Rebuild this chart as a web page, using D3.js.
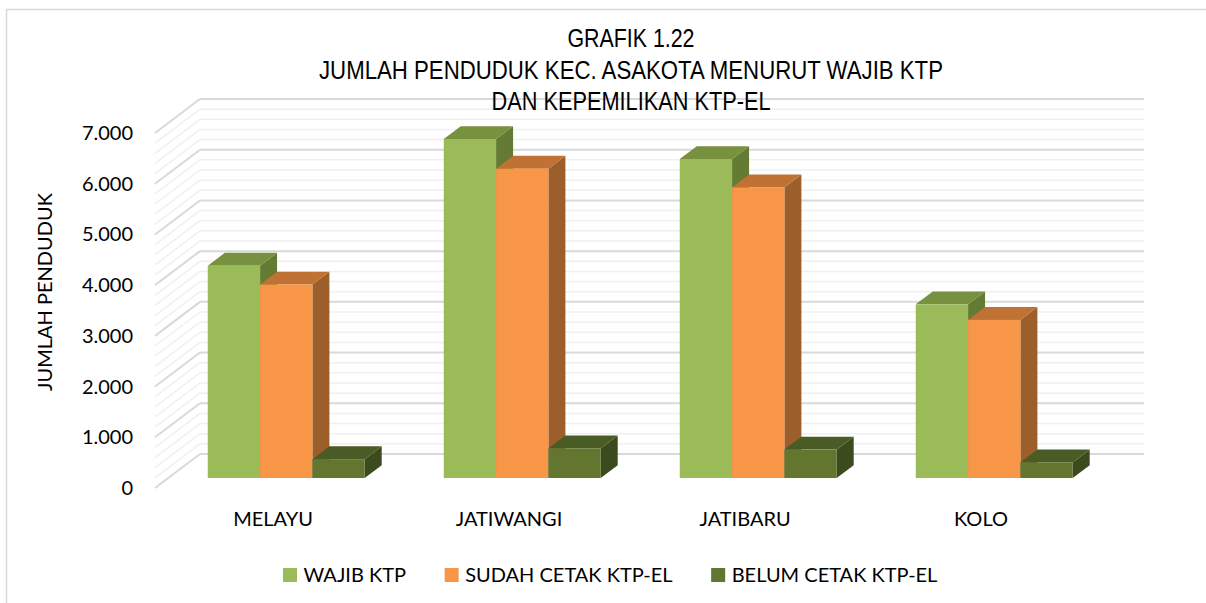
<!DOCTYPE html>
<html>
<head>
<meta charset="utf-8">
<script src="https://cdn.jsdelivr.net/npm/d3@7"></script>
<style>
  html, body { margin: 0; padding: 0; background: #fff; }
  svg { display: block; }
</style>
</head>
<body>
<svg id="chart" width="1206" height="603"></svg>
<script>
// ---- data ----
const categories = ["MELAYU", "JATIWANGI", "JATIBARU", "KOLO"];
const seriesNames = ["WAJIB KTP", "SUDAH CETAK KTP-EL", "BELUM CETAK KTP-EL"];
const wajibKTP = [4186, 6685, 6290, 3425];
const sudahCetak = [3815, 6099, 5730, 3118];
const belumCetak = [371, 586, 560, 307];
const yTickValues = [0, 1000, 2000, 3000, 4000, 5000, 6000, 7000];
const yTickLabels = ["0", "1.000", "2.000", "3.000", "4.000", "5.000", "6.000", "7.000"];
const titleLines = ["GRAFIK 1.22", "JUMLAH PENDUDUK KEC. ASAKOTA MENURUT WAJIB KTP", "DAN KEPEMILIKAN KTP-EL"];
const yAxisTitle = "JUMLAH PENDUDUK";

// ---- styles ----
const colors = [
  { front: "#9BBB59", top: "#77913E", side: "#647B33" },
  { front: "#F79646", top: "#BF7233", side: "#9C5E2B" },
  { front: "#62762F", top: "#4A5C25", side: "#3C4B1D" }
];
const seriesValues = [wajibKTP, sudahCetak, belumCetak];

const svg = d3.select("#chart");
const W = 1206, H = 603;

// chart border
svg.append("rect").attr("x", 6.5).attr("y", 9.5).attr("width", 1260).attr("height", 700)
  .attr("fill", "#fff").attr("stroke", "#d9d9d9").attr("stroke-width", 1.5);

// ---- 3D oblique geometry ----
const frontLeft = 155, frontRight = 1099;
const depthDX = 45, depthDY = -34;       // full depth of the plot box
const barT0 = 0.294, barT1 = 0.672;      // bar depth span (fraction)
const y = d3.scaleLinear().domain([0, 7000]).range([488, 133]); // front plane
const x0 = d3.scaleBand().domain(categories).range([frontLeft, frontRight]).paddingInner(0).paddingOuter(0);
const groupW = x0.bandwidth() * 0.665;
const x1 = d3.scaleBand().domain(seriesNames).range([0, groupW]).padding(0);

// ---- gridlines (back wall + side wall) ----
const grid = svg.append("g");
const minorVals = d3.range(0, 7001, 200);
minorVals.forEach(v => {
  const major = v % 1000 === 0;
  const yf = y(v), yb = y(v) + depthDY;
  const col = major ? "#d9d9d9" : "#f0f0f0";
  const sw = major ? 2 : 1.5;
  // side wall slanted line
  grid.append("line").attr("x1", frontLeft).attr("y1", yf).attr("x2", frontLeft + depthDX).attr("y2", yb)
    .attr("stroke", col).attr("stroke-width", sw);
  // back wall line
  grid.append("line").attr("x1", frontLeft + depthDX).attr("y1", yb).attr("x2", frontRight + depthDX).attr("y2", yb)
    .attr("stroke", col).attr("stroke-width", sw);
});

// ---- bars ----
const bars = svg.append("g");
const dxB = depthDX * (barT1 - barT0), dyB = depthDY * (barT1 - barT0);
const shiftX = depthDX * barT0, shiftY = depthDY * barT0;
categories.forEach((c, ci) => {
  const gx = x0(c) + (x0.bandwidth() - groupW) / 2 + shiftX;
  seriesNames.forEach((s, si) => {
    const v = seriesValues[si][ci];
    const xa = gx + x1(s), xb = xa + x1.bandwidth();
    const yt = y(v) + shiftY, yb0 = y(0) + shiftY;
    const col = colors[si];
    const g = bars.append("g");
    // side face
    g.append("polygon").attr("points", [[xb, yt], [xb + dxB, yt + dyB], [xb + dxB, yb0 + dyB], [xb, yb0]].map(p => p.join(",")).join(" "))
      .attr("fill", col.side);
    // top face
    g.append("polygon").attr("points", [[xa, yt], [xa + dxB, yt + dyB], [xb + dxB, yt + dyB], [xb, yt]].map(p => p.join(",")).join(" "))
      .attr("fill", col.top);
    // front face
    g.append("rect").attr("x", xa).attr("y", yt).attr("width", xb - xa).attr("height", yb0 - yt)
      .attr("fill", col.front);
  });
});

// ---- y tick labels ----
const labelFont = "Lato, 'Open Sans', sans-serif";
svg.append("g").selectAll("text").data(yTickValues).join("text")
  .attr("x", 133).attr("y", d => y(d)).attr("dy", "0.35em")
  .attr("text-anchor", "end").attr("font-family", labelFont).attr("font-size", 20).attr("fill", "#000")
  .text((d, i) => yTickLabels[i]);

// ---- y axis title ----
svg.append("text").attr("transform", "translate(52,292) rotate(-90)")
  .attr("text-anchor", "middle").attr("font-family", labelFont).attr("font-size", 20).attr("fill", "#000")
  .text(yAxisTitle);

// ---- category labels ----
svg.append("g").selectAll("text").data(categories).join("text")
  .attr("x", d => x0(d) + x0.bandwidth() / 2).attr("y", 526)
  .attr("text-anchor", "middle").attr("font-family", labelFont).attr("font-size", 20).attr("fill", "#000")
  .text(d => d);

// ---- title ----
const titleWidths = [127, 624, 279];
const titleBase = [46.5, 78.5, 110];
titleLines.forEach((t, i) => {
  svg.append("text").attr("x", 631).attr("y", titleBase[i]).attr("text-anchor", "middle")
    .attr("font-family", "'Liberation Sans Narrow', 'Arial Narrow', 'Liberation Sans', Arial, sans-serif")
    .attr("font-size", 25.5).attr("fill", "#000")
    .attr("textLength", titleWidths[i]).attr("lengthAdjust", "spacingAndGlyphs")
    .text(t);
});

// ---- legend ----
const legend = svg.append("g");
let lx = 283;
seriesNames.forEach((s, i) => {
  legend.append("rect").attr("x", lx).attr("y", 568).attr("width", 14).attr("height", 14).attr("fill", colors[i].front);
  const t = legend.append("text").attr("x", lx + 20.5).attr("y", 582)
    .attr("font-family", labelFont).attr("font-size", 20).attr("fill", "#000").text(s);
  lx = lx + 20.5 + t.node().getComputedTextLength() + 38.6;
});
</script>
</body>
</html>
